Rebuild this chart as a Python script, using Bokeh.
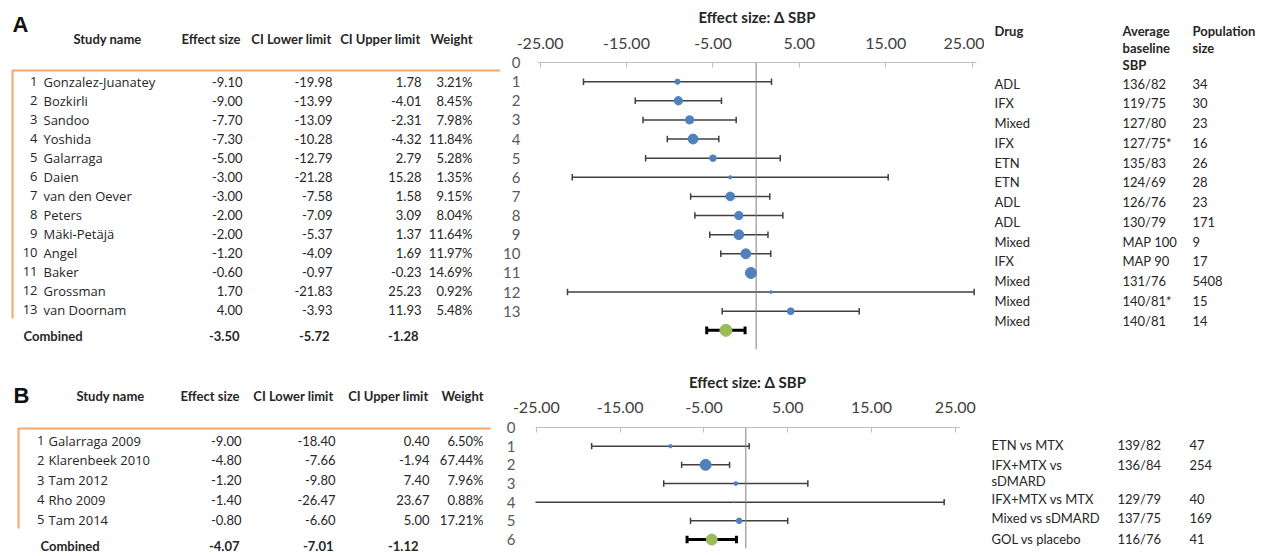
import numpy as np
from bokeh.plotting import figure
from bokeh.models import Range1d, FixedTicker, NumeralTickFormatter, Span
from bokeh.layouts import row, column
from bokeh.embed import file_html
from bokeh.resources import INLINE
from bokeh.core.properties import value

FONT = "Lato"
NAME_FONT = "Open Sans"

# ---------------- Panel A data ----------------
a_studies = ["Gonzalez-Juanatey", "Bozkirli", "Sandoo", "Yoshida", "Galarraga", "Daien",
             "van den Oever", "Peters", "Mäki-Petäjä", "Angel", "Baker", "Grossman", "van Doornam"]
a_effect = [-9.10, -9.00, -7.70, -7.30, -5.00, -3.00, -3.00, -2.00, -2.00, -1.20, -0.60, 1.70, 4.00]
a_lower = [-19.98, -13.99, -13.09, -10.28, -12.79, -21.28, -7.58, -7.09, -5.37, -4.09, -0.97, -21.83, -3.93]
a_upper = [1.78, -4.01, -2.31, -4.32, 2.79, 15.28, 1.58, 3.09, 1.37, 1.69, -0.23, 25.23, 11.93]
a_weight = [3.21, 8.45, 7.98, 11.84, 5.28, 1.35, 9.15, 8.04, 11.64, 11.97, 14.69, 0.92, 5.48]
a_combined = [-3.50, -5.72, -1.28]
a_drug = ["ADL", "IFX", "Mixed", "IFX", "ETN", "ETN", "ADL", "ADL", "Mixed", "IFX", "Mixed", "Mixed", "Mixed"]
a_sbp = ["136/82", "119/75", "127/80", "127/75*", "135/83", "124/69", "126/76", "130/79",
         "MAP 100", "MAP 90", "131/76", "140/81*", "140/81"]
a_pop = ["34", "30", "23", "16", "26", "28", "23", "171", "9", "17", "5408", "15", "14"]

# ---------------- Panel B data ----------------
b_studies = ["Galarraga 2009", "Klarenbeek 2010", "Tam 2012", "Rho 2009", "Tam 2014"]
b_effect = [-9.00, -4.80, -1.20, -1.40, -0.80]
b_lower = [-18.40, -7.66, -9.80, -26.47, -6.60]
b_upper = [0.40, -1.94, 7.40, 23.67, 5.00]
b_weight = [6.50, 67.44, 7.96, 0.88, 17.21]
b_combined = [-4.07, -7.01, -1.12]
b_drug = ["ETN vs MTX", "IFX+MTX vs\nsDMARD", "IFX+MTX vs MTX", "Mixed vs sDMARD", "GOL vs placebo"]
b_sbp = ["139/82", "136/84", "129/79", "137/75", "116/76"]
b_pop = ["47", "254", "40", "169", "41"]

x_ticks = [-25, -15, -5, 5, 15, 25]
axis_title = "Effect size: Δ SBP"
headers = ["Study name", "Effect size", "CI Lower limit", "CI Upper limit", "Weight"]

TXT = "#262626"
ORANGE = "#f6a468"
BLUE = "#4f81bd"
GREEN = "#9bbb59"


def blank(w, h):
    p = figure(frame_width=w, frame_height=h, x_range=Range1d(0, w), y_range=Range1d(h, 0),
               x_axis_location=None, y_axis_location=None, min_border=0,
               toolbar_location=None, output_backend="svg", frame_align=False)
    p.grid.visible = False
    p.outline_line_color = None
    return p


def txt(p, xs, ys, texts, align="left", size="13px", style="normal", color=TXT,
        font=FONT, baseline="middle", lh=1.2):
    p.text(x=xs, y=ys, text=texts, text_align=align, text_baseline=baseline,
           text_font=value(font), text_font_size=size, text_font_style=style,
           text_color=color, text_line_height=lh)


def study_table(w, h, letter, lx, ly, hy, hx, studies, eff, lo, up, wt, comb,
                y0, dy, numx, namex, colx, combx, comby, combcolx, bracket):
    p = blank(w, h)
    n = len(studies)
    txt(p, [lx], [ly], [letter], size="22px", style="bold", color="#111111", font="Liberation Sans")
    # headers
    txt(p, [hx[0]], [hy], [headers[0]], align="center", size="13px", style="bold")
    txt(p, hx[1:], [hy] * 4, headers[1:], align="right", size="13px", style="bold")
    ys = [y0 + i * dy for i in range(n)]
    txt(p, [numx] * n, ys, [str(i + 1) for i in range(n)], align="right", font=NAME_FONT)
    txt(p, [namex] * n, ys, studies, font=NAME_FONT)
    txt(p, [colx[0]] * n, ys, [f"{v:.2f}" for v in eff], align="right")
    txt(p, [colx[1]] * n, ys, [f"{v:.2f}" for v in lo], align="right")
    txt(p, [colx[2]] * n, ys, [f"{v:.2f}" for v in up], align="right")
    txt(p, [colx[3]] * n, ys, [f"{v:.2f}%" for v in wt], align="right")
    txt(p, [combx], [comby], ["Combined"], style="bold", size="13px")
    txt(p, combcolx, [comby] * 3, [f"{v:.2f}" for v in comb], align="right", style="bold", size="13px")
    bx, by_top, by_bot, bx_end = bracket
    p.line([bx_end, bx, bx], [by_top, by_top, by_bot], line_color=ORANGE, line_width=2)
    return p


def forest(fw, fh, xr, ymax, bl, br, bt, bb, n, eff, lo, up, wt, comb, ylabels, label_standoff,
           tick_standoff, title_standoff, comb_size):
    p = figure(frame_width=fw, frame_height=fh, x_range=Range1d(*xr), y_range=Range1d(ymax, 0),
               x_axis_location="above", min_border_left=bl, min_border_right=br,
               min_border_top=bt, min_border_bottom=bb, toolbar_location=None,
               output_backend="svg", frame_align=False)
    p.grid.visible = False
    p.outline_line_color = None
    xa = p.xaxis[0]
    xa.ticker = FixedTicker(ticks=x_ticks)
    xa.formatter = NumeralTickFormatter(format="0.00")
    xa.axis_label = axis_title
    xa.axis_label_text_font = FONT
    xa.axis_label_text_font_size = "15px"
    xa.axis_label_text_font_style = "bold"
    xa.axis_label_text_color = TXT
    xa.axis_label_standoff = title_standoff
    xa.major_label_text_font = FONT
    xa.major_label_text_font_size = "16px"
    xa.major_label_text_color = "#404040"
    xa.major_label_standoff = tick_standoff
    xa.axis_line_color = "#bfbfbf"
    xa.major_tick_line_color = "#bfbfbf"
    xa.major_tick_in = 5
    xa.major_tick_out = 0
    xa.minor_tick_line_color = None
    ya = p.yaxis[0]
    ya.ticker = FixedTicker(ticks=ylabels)
    ya.axis_line_color = None
    ya.major_tick_line_color = None
    ya.minor_tick_line_color = None
    ya.major_label_text_font = FONT
    ya.major_label_text_font_size = "15px"
    ya.major_label_text_color = "#595959"
    ya.major_label_standoff = label_standoff

    p.add_layout(Span(location=0, dimension="height", line_color="#7f7f7f", line_width=1))

    idx = np.arange(1, n + 1)
    lo = np.array(lo)
    up = np.array(up)
    cap = 0.17
    p.segment(x0=lo, y0=idx, x1=up, y1=idx, line_color="#404040", line_width=1.5)
    p.segment(x0=lo, y0=idx - cap, x1=lo, y1=idx + cap, line_color="#404040", line_width=1.5)
    p.segment(x0=up, y0=idx - cap, x1=up, y1=idx + cap, line_color="#404040", line_width=1.5)
    wt = np.array(wt)
    sizes = 11 * np.sqrt(wt / wt.max())
    p.scatter(x=eff, y=idx, size=sizes, fill_color=BLUE, line_color=BLUE)

    cy = n + 1
    ce, cl, cu = comb
    p.segment(x0=[cl], y0=[cy], x1=[cu], y1=[cy], line_color="black", line_width=3)
    p.segment(x0=[cl, cu], y0=[cy - 0.2, cy - 0.2], x1=[cl, cu], y1=[cy + 0.2, cy + 0.2],
              line_color="black", line_width=3)
    p.scatter(x=[ce], y=[cy], size=comb_size, fill_color=GREEN, line_color=GREEN)
    return p


# ---------------- Row A (page y 0..365) ----------------
HA = 365
tA = study_table(500, HA, "A", 12, 24, 38, [107, 240, 331, 420, 472],
                 a_studies, a_effect, a_lower, a_upper, a_weight, a_combined,
                 81, 19.0, 37, 43, [242, 332, 421, 472], 23, 335, [239, 329, 418],
                 (12, 70, 318, 500))
# figure 480 wide: 33 + 439 + 8 ; 365 tall: 62 + 287 + 16
pA = forest(439, 287, (-25.3, 25.5), 15, 33, 8, 62, 16, len(a_studies), a_effect, a_lower,
            a_upper, a_weight, a_combined, list(range(14)), 11, 14, 9, 12)

rA = blank(280, HA)
txt(rA, [10], [30], ["Drug"], size="13px", style="bold")
txt(rA, [138, 138, 138], [30, 47, 64], ["Average", "baseline", "SBP"], size="13px", style="bold")
txt(rA, [208, 208], [30, 47], ["Population", "size"], size="13px", style="bold")
ry = [83 + 19.75 * i for i in range(len(a_drug))]
txt(rA, [10] * len(a_drug), ry, a_drug)
txt(rA, [138] * len(a_drug), ry, a_sbp)
txt(rA, [208] * len(a_drug), ry, a_pop)

# ---------------- Row B (page y 365..554) ----------------
HB = 189
tB = study_table(500, HB, "B", 13, 30, 30, [110, 239, 333, 428, 483],
                 b_studies, b_effect, b_lower, b_upper, b_weight, b_combined,
                 75, 19.75, 44, 48, [241, 335, 429, 483], 40, 180, [239, 333, 418],
                 (18, 63, 163, 490))
# figure 480 wide: 35 + 424 + 21 ; 189 tall: 62 + 121 + 6
pB = forest(424, 121, (-25.1, 25.5), 6.48, 35, 21, 62, 6, len(b_studies), b_effect, b_lower,
            b_upper, b_weight, b_combined, list(range(7)), 14, 15, 8, 11)

rB = blank(280, HB)
b_row_y = [79, 99, 133, 152, 173]
txt(rB, [11] * 5, [y - 8 for y in b_row_y], b_drug, baseline="top", lh=1.0)
txt(rB, [137] * 5, b_row_y, b_sbp)
txt(rB, [209] * 5, b_row_y, b_pop)

layout = column(row(tA, pA, rA), row(tB, pB, rB))

open("out.html", "w").write(file_html(layout, INLINE))
